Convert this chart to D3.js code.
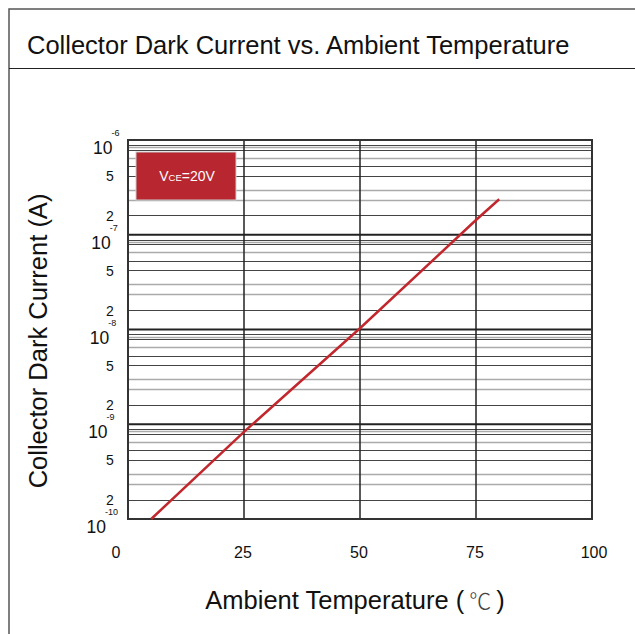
<!DOCTYPE html>
<html><head><meta charset="utf-8">
<script src="https://cdn.jsdelivr.net/npm/d3@7"></script>
<style>body{margin:0;background:#fff}</style>
</head><body><svg id="c" width="635" height="634"></svg>
<script>
const title = "Collector Dark Current vs. Ambient Temperature";
const xTitleMain = "Ambient Temperature (";
const xTitleUnit = "℃";
const xTitleEnd = ")";
const yTitle = "Collector Dark Current (A)";
const xTicks = [0, 25, 50, 75, 100];
const xGrid = [25, 50, 75];
const decades = [-10, -9, -8, -7, -6];
// minor grid lines within each decade (multipliers, as drawn in the original)
const minorGrid = [8.9, 8.4, 7.9, 6.5, 5.3, 4.2, 3.0, 2.35, 1.6];
const minorLabels = ["5", "2"];
const minorLabelAt = [4.2, 1.6];
const temps = [5, 25, 50, 75, 80];
const darkCurrent = [1.0e-10, 8.3e-10, 1.03e-8, 1.43e-7, 2.37e-7];
const legendParts = ["V", "CE", "=20V"];

// styles
const minorDark = [true, false, true, false, true, true, false, false, true];

const svg = d3.select("#c");
const F = "'Liberation Sans', Arial, sans-serif";
const x = d3.scaleLinear().domain([0, 100]).range([128, 592]);
const y = d3.scaleLog().domain([1e-10, 1e-6]).range([519, 140]);

// page frame
svg.append("path").attr("d", "M9,634V9H635").attr("fill", "none").attr("stroke", "#555").attr("stroke-width", 1.5);
svg.append("line").attr("x1", 9).attr("x2", 635).attr("y1", 68.5).attr("y2", 68.5).attr("stroke", "#222").attr("stroke-width", 1);
svg.append("text").attr("x", 27).attr("y", 54).attr("font-family", F).attr("font-size", 25.5).attr("fill", "#111").text(title);

// minor grid
const minorVals = [];
decades.slice(0, -1).forEach(d => minorGrid.forEach((m, i) => minorVals.push({v: m * Math.pow(10, d), i})));
svg.append("g").selectAll("line").data(minorVals).join("line")
  .attr("x1", x(0)).attr("x2", x(100))
  .attr("y1", d => Math.round(y(d.v)) + 0.5).attr("y2", d => Math.round(y(d.v)) + 0.5)
  .attr("stroke", d => minorDark[d.i] ? "#444" : "#aaa").attr("stroke-width", d => minorDark[d.i] ? 1 : 1.5);
// major grid
svg.append("g").selectAll("line").data(decades).join("line")
  .attr("x1", x(0)).attr("x2", x(100))
  .attr("y1", d => y(Math.pow(10, d))).attr("y2", d => y(Math.pow(10, d)))
  .attr("stroke", "#222").attr("stroke-width", 2);
svg.append("g").selectAll("line").data(xGrid).join("line")
  .attr("x1", d => x(d)).attr("x2", d => x(d)).attr("y1", y(1e-6)).attr("y2", y(1e-10))
  .attr("stroke", "#222").attr("stroke-width", 1.5);
svg.append("rect").attr("x", x(0)).attr("y", y(1e-6)).attr("width", x(100) - x(0)).attr("height", y(1e-10) - y(1e-6))
  .attr("fill", "none").attr("stroke", "#333").attr("stroke-width", 2);

// y labels
const yl = svg.append("g").attr("font-family", F).attr("fill", "#111");
decades.forEach((d, k) => {
  const yy = y(Math.pow(10, d));
  const xr = 106 + k * 1.6;
  yl.append("text").attr("x", xr).attr("y", yy + 14).attr("text-anchor", "end").attr("font-size", 17.5).text("10");
  yl.append("text").attr("x", xr - 1).attr("y", yy - 4).attr("font-size", 9).text(String(d));
  if (d < -6) minorLabels.forEach((m, i) => {
    const ym = y(minorLabelAt[i] * Math.pow(10, d));
    yl.append("text").attr("x", 110).attr("y", ym + 5.5).attr("text-anchor", "middle").attr("font-size", 14).text(m);
  });
});
// x labels
svg.append("g").selectAll("text").data(xTicks).join("text")
  .attr("x", d => x(d) + (d === 0 ? -12 : d === 100 ? 2 : -1)).attr("y", 558).attr("text-anchor", "middle")
  .attr("font-family", F).attr("font-size", 16).attr("fill", "#111").text(d => d);

// titles
const xt = svg.append("text").attr("x", 355).attr("y", 609).attr("text-anchor", "middle")
  .attr("font-family", F).attr("font-size", 25.5).attr("fill", "#111");
xt.append("tspan").text(xTitleMain);
xt.append("tspan").attr("dx", 5).attr("font-family", "'Noto Sans CJK SC'").attr("font-weight", 300).attr("font-size", 22).attr("fill", "#444").text(xTitleUnit);
xt.append("tspan").attr("dx", 5).text(xTitleEnd);
svg.append("text").attr("transform", "translate(47,341) rotate(-90)").attr("text-anchor", "middle")
  .attr("font-family", F).attr("font-size", 25.5).attr("fill", "#111").text(yTitle);

// data line
const line = d3.line().x((d, i) => x(temps[i])).y(d => y(d));
svg.append("path").datum(darkCurrent).attr("d", line).attr("fill", "none").attr("stroke", "#c1272d").attr("stroke-width", 2.5);

// legend
svg.append("rect").attr("x", 136).attr("y", 152).attr("width", 100).attr("height", 48)
  .attr("fill", "#b8262f").attr("stroke", "#ccc").attr("stroke-width", 1);
const lt = svg.append("text").attr("x", 187).attr("y", 181).attr("text-anchor", "middle")
  .attr("font-family", F).attr("fill", "#fff").attr("font-size", 14);
lt.append("tspan").text(legendParts[0]);
lt.append("tspan").attr("font-size", 9.5).text(legendParts[1]);
lt.append("tspan").text(legendParts[2]);
</script></body></html>
